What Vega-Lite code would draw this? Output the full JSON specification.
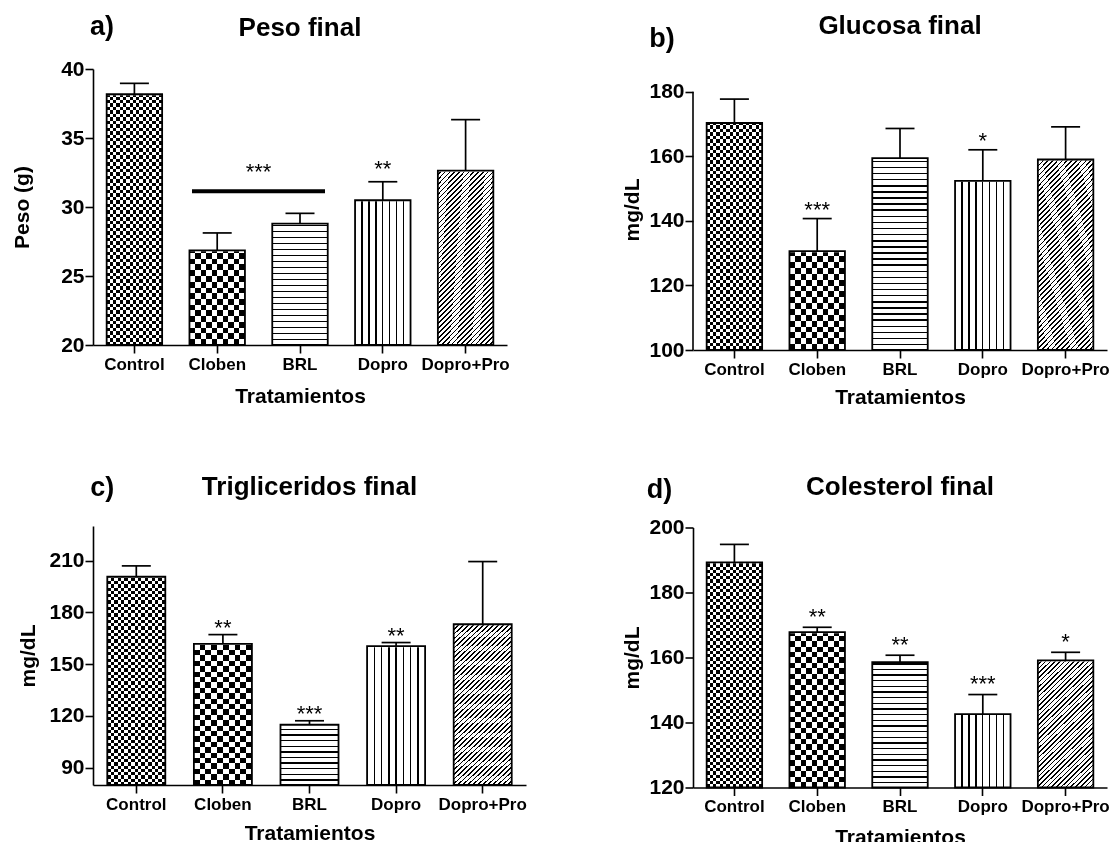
{
"$schema":"https://vega.github.io/schema/vega-lite/v6.json",
"background":"white",
"padding":{"left":11,"top":12,"right":0,"bottom":0},
"config":{
"aria":false,
"view":{"stroke":null},
"axis":{"domainColor":"black","tickColor":"black","domainWidth":1.6,"tickWidth":1.6,"labelColor":"black","titleColor":"black","labelFont":"Liberation Sans","titleFont":"Liberation Sans","labelFontWeight":"bold","titleFontWeight":"bold","grid":false},
"axisX":{"labelFontSize":17,"titleFontSize":21,"tickSize":8,"labelPadding":3,"labelAngle":0},
"axisY":{"labelFontSize":21,"titleFontSize":21,"tickSize":8,"labelPadding":1},
"text":{"font":"Liberation Sans","color":"black","baseline":"alphabetic","align":"center"},
"style":{
"cH":{"color":{"gradient":"linear","x1":0,"y1":0,"x2":0,"y2":1,"stops":[
{"offset":0,"color":"#000"},
{"offset":0.0125,"color":"#000"},{"offset":0.0125,"color":"#fff"},{"offset":0.025,"color":"#fff"},{"offset":0.025,"color":"#000"},
{"offset":0.0375,"color":"#000"},{"offset":0.0375,"color":"#fff"},{"offset":0.05,"color":"#fff"},{"offset":0.05,"color":"#000"},
{"offset":0.0625,"color":"#000"},{"offset":0.0625,"color":"#fff"},{"offset":0.075,"color":"#fff"},{"offset":0.075,"color":"#000"},
{"offset":0.0875,"color":"#000"},{"offset":0.0875,"color":"#fff"},{"offset":0.1,"color":"#fff"},{"offset":0.1,"color":"#000"},
{"offset":0.1125,"color":"#000"},{"offset":0.1125,"color":"#fff"},{"offset":0.125,"color":"#fff"},{"offset":0.125,"color":"#000"},
{"offset":0.1375,"color":"#000"},{"offset":0.1375,"color":"#fff"},{"offset":0.15,"color":"#fff"},{"offset":0.15,"color":"#000"},
{"offset":0.1625,"color":"#000"},{"offset":0.1625,"color":"#fff"},{"offset":0.175,"color":"#fff"},{"offset":0.175,"color":"#000"},
{"offset":0.1875,"color":"#000"},{"offset":0.1875,"color":"#fff"},{"offset":0.2,"color":"#fff"},{"offset":0.2,"color":"#000"},
{"offset":0.2125,"color":"#000"},{"offset":0.2125,"color":"#fff"},{"offset":0.225,"color":"#fff"},{"offset":0.225,"color":"#000"},
{"offset":0.2375,"color":"#000"},{"offset":0.2375,"color":"#fff"},{"offset":0.25,"color":"#fff"},{"offset":0.25,"color":"#000"},
{"offset":0.2625,"color":"#000"},{"offset":0.2625,"color":"#fff"},{"offset":0.275,"color":"#fff"},{"offset":0.275,"color":"#000"},
{"offset":0.2875,"color":"#000"},{"offset":0.2875,"color":"#fff"},{"offset":0.3,"color":"#fff"},{"offset":0.3,"color":"#000"},
{"offset":0.3125,"color":"#000"},{"offset":0.3125,"color":"#fff"},{"offset":0.325,"color":"#fff"},{"offset":0.325,"color":"#000"},
{"offset":0.3375,"color":"#000"},{"offset":0.3375,"color":"#fff"},{"offset":0.35,"color":"#fff"},{"offset":0.35,"color":"#000"},
{"offset":0.3625,"color":"#000"},{"offset":0.3625,"color":"#fff"},{"offset":0.375,"color":"#fff"},{"offset":0.375,"color":"#000"},
{"offset":0.3875,"color":"#000"},{"offset":0.3875,"color":"#fff"},{"offset":0.4,"color":"#fff"},{"offset":0.4,"color":"#000"},
{"offset":0.4125,"color":"#000"},{"offset":0.4125,"color":"#fff"},{"offset":0.425,"color":"#fff"},{"offset":0.425,"color":"#000"},
{"offset":0.4375,"color":"#000"},{"offset":0.4375,"color":"#fff"},{"offset":0.45,"color":"#fff"},{"offset":0.45,"color":"#000"},
{"offset":0.4625,"color":"#000"},{"offset":0.4625,"color":"#fff"},{"offset":0.475,"color":"#fff"},{"offset":0.475,"color":"#000"},
{"offset":0.4875,"color":"#000"},{"offset":0.4875,"color":"#fff"},{"offset":0.5,"color":"#fff"},{"offset":0.5,"color":"#000"},
{"offset":0.5125,"color":"#000"},{"offset":0.5125,"color":"#fff"},{"offset":0.525,"color":"#fff"},{"offset":0.525,"color":"#000"},
{"offset":0.5375,"color":"#000"},{"offset":0.5375,"color":"#fff"},{"offset":0.55,"color":"#fff"},{"offset":0.55,"color":"#000"},
{"offset":0.5625,"color":"#000"},{"offset":0.5625,"color":"#fff"},{"offset":0.575,"color":"#fff"},{"offset":0.575,"color":"#000"},
{"offset":0.5875,"color":"#000"},{"offset":0.5875,"color":"#fff"},{"offset":0.6,"color":"#fff"},{"offset":0.6,"color":"#000"},
{"offset":0.6125,"color":"#000"},{"offset":0.6125,"color":"#fff"},{"offset":0.625,"color":"#fff"},{"offset":0.625,"color":"#000"},
{"offset":0.6375,"color":"#000"},{"offset":0.6375,"color":"#fff"},{"offset":0.65,"color":"#fff"},{"offset":0.65,"color":"#000"},
{"offset":0.6625,"color":"#000"},{"offset":0.6625,"color":"#fff"},{"offset":0.675,"color":"#fff"},{"offset":0.675,"color":"#000"},
{"offset":0.6875,"color":"#000"},{"offset":0.6875,"color":"#fff"},{"offset":0.7,"color":"#fff"},{"offset":0.7,"color":"#000"},
{"offset":0.7125,"color":"#000"},{"offset":0.7125,"color":"#fff"},{"offset":0.725,"color":"#fff"},{"offset":0.725,"color":"#000"},
{"offset":0.7375,"color":"#000"},{"offset":0.7375,"color":"#fff"},{"offset":0.75,"color":"#fff"},{"offset":0.75,"color":"#000"},
{"offset":0.7625,"color":"#000"},{"offset":0.7625,"color":"#fff"},{"offset":0.775,"color":"#fff"},{"offset":0.775,"color":"#000"},
{"offset":0.7875,"color":"#000"},{"offset":0.7875,"color":"#fff"},{"offset":0.8,"color":"#fff"},{"offset":0.8,"color":"#000"},
{"offset":0.8125,"color":"#000"},{"offset":0.8125,"color":"#fff"},{"offset":0.825,"color":"#fff"},{"offset":0.825,"color":"#000"},
{"offset":0.8375,"color":"#000"},{"offset":0.8375,"color":"#fff"},{"offset":0.85,"color":"#fff"},{"offset":0.85,"color":"#000"},
{"offset":0.8625,"color":"#000"},{"offset":0.8625,"color":"#fff"},{"offset":0.875,"color":"#fff"},{"offset":0.875,"color":"#000"},
{"offset":0.8875,"color":"#000"},{"offset":0.8875,"color":"#fff"},{"offset":0.9,"color":"#fff"},{"offset":0.9,"color":"#000"},
{"offset":0.9125,"color":"#000"},{"offset":0.9125,"color":"#fff"},{"offset":0.925,"color":"#fff"},{"offset":0.925,"color":"#000"},
{"offset":0.9375,"color":"#000"},{"offset":0.9375,"color":"#fff"},{"offset":0.95,"color":"#fff"},{"offset":0.95,"color":"#000"},
{"offset":0.9625,"color":"#000"},{"offset":0.9625,"color":"#fff"},{"offset":0.975,"color":"#fff"},{"offset":0.975,"color":"#000"},
{"offset":0.9875,"color":"#000"},{"offset":0.9875,"color":"#fff"},{"offset":1,"color":"#fff"}]}},
"cV":{"color":{"gradient":"linear","x1":0,"y1":0,"x2":1,"y2":0,"stops":[
{"offset":0,"color":"#fff"},
{"offset":0.0588,"color":"#fff"},{"offset":0.0588,"color":"#000"},{"offset":0.1176,"color":"#000"},{"offset":0.1176,"color":"#fff"},
{"offset":0.1765,"color":"#fff"},{"offset":0.1765,"color":"#000"},{"offset":0.2353,"color":"#000"},{"offset":0.2353,"color":"#fff"},
{"offset":0.2941,"color":"#fff"},{"offset":0.2941,"color":"#000"},{"offset":0.3529,"color":"#000"},{"offset":0.3529,"color":"#fff"},
{"offset":0.4118,"color":"#fff"},{"offset":0.4118,"color":"#000"},{"offset":0.4706,"color":"#000"},{"offset":0.4706,"color":"#fff"},
{"offset":0.5294,"color":"#fff"},{"offset":0.5294,"color":"#000"},{"offset":0.5882,"color":"#000"},{"offset":0.5882,"color":"#fff"},
{"offset":0.6471,"color":"#fff"},{"offset":0.6471,"color":"#000"},{"offset":0.7059,"color":"#000"},{"offset":0.7059,"color":"#fff"},
{"offset":0.7647,"color":"#fff"},{"offset":0.7647,"color":"#000"},{"offset":0.8235,"color":"#000"},{"offset":0.8235,"color":"#fff"},
{"offset":0.8824,"color":"#fff"},{"offset":0.8824,"color":"#000"},{"offset":0.9412,"color":"#000"},{"offset":0.9412,"color":"#fff"},
{"offset":1,"color":"#fff"}]}},
"kH":{"color":{"gradient":"linear","x1":0,"y1":0,"x2":0,"y2":1,"stops":[
{"offset":0,"color":"#000"},
{"offset":0.02083,"color":"#000"},{"offset":0.02083,"color":"#fff"},{"offset":0.04167,"color":"#fff"},{"offset":0.04167,"color":"#000"},
{"offset":0.0625,"color":"#000"},{"offset":0.0625,"color":"#fff"},{"offset":0.08333,"color":"#fff"},{"offset":0.08333,"color":"#000"},
{"offset":0.10417,"color":"#000"},{"offset":0.10417,"color":"#fff"},{"offset":0.125,"color":"#fff"},{"offset":0.125,"color":"#000"},
{"offset":0.14583,"color":"#000"},{"offset":0.14583,"color":"#fff"},{"offset":0.16667,"color":"#fff"},{"offset":0.16667,"color":"#000"},
{"offset":0.1875,"color":"#000"},{"offset":0.1875,"color":"#fff"},{"offset":0.20833,"color":"#fff"},{"offset":0.20833,"color":"#000"},
{"offset":0.22917,"color":"#000"},{"offset":0.22917,"color":"#fff"},{"offset":0.25,"color":"#fff"},{"offset":0.25,"color":"#000"},
{"offset":0.27083,"color":"#000"},{"offset":0.27083,"color":"#fff"},{"offset":0.29167,"color":"#fff"},{"offset":0.29167,"color":"#000"},
{"offset":0.3125,"color":"#000"},{"offset":0.3125,"color":"#fff"},{"offset":0.33333,"color":"#fff"},{"offset":0.33333,"color":"#000"},
{"offset":0.35417,"color":"#000"},{"offset":0.35417,"color":"#fff"},{"offset":0.375,"color":"#fff"},{"offset":0.375,"color":"#000"},
{"offset":0.39583,"color":"#000"},{"offset":0.39583,"color":"#fff"},{"offset":0.41667,"color":"#fff"},{"offset":0.41667,"color":"#000"},
{"offset":0.4375,"color":"#000"},{"offset":0.4375,"color":"#fff"},{"offset":0.45833,"color":"#fff"},{"offset":0.45833,"color":"#000"},
{"offset":0.47917,"color":"#000"},{"offset":0.47917,"color":"#fff"},{"offset":0.5,"color":"#fff"},{"offset":0.5,"color":"#000"},
{"offset":0.52083,"color":"#000"},{"offset":0.52083,"color":"#fff"},{"offset":0.54167,"color":"#fff"},{"offset":0.54167,"color":"#000"},
{"offset":0.5625,"color":"#000"},{"offset":0.5625,"color":"#fff"},{"offset":0.58333,"color":"#fff"},{"offset":0.58333,"color":"#000"},
{"offset":0.60417,"color":"#000"},{"offset":0.60417,"color":"#fff"},{"offset":0.625,"color":"#fff"},{"offset":0.625,"color":"#000"},
{"offset":0.64583,"color":"#000"},{"offset":0.64583,"color":"#fff"},{"offset":0.66667,"color":"#fff"},{"offset":0.66667,"color":"#000"},
{"offset":0.6875,"color":"#000"},{"offset":0.6875,"color":"#fff"},{"offset":0.70833,"color":"#fff"},{"offset":0.70833,"color":"#000"},
{"offset":0.72917,"color":"#000"},{"offset":0.72917,"color":"#fff"},{"offset":0.75,"color":"#fff"},{"offset":0.75,"color":"#000"},
{"offset":0.77083,"color":"#000"},{"offset":0.77083,"color":"#fff"},{"offset":0.79167,"color":"#fff"},{"offset":0.79167,"color":"#000"},
{"offset":0.8125,"color":"#000"},{"offset":0.8125,"color":"#fff"},{"offset":0.83333,"color":"#fff"},{"offset":0.83333,"color":"#000"},
{"offset":0.85417,"color":"#000"},{"offset":0.85417,"color":"#fff"},{"offset":0.875,"color":"#fff"},{"offset":0.875,"color":"#000"},
{"offset":0.89583,"color":"#000"},{"offset":0.89583,"color":"#fff"},{"offset":0.91667,"color":"#fff"},{"offset":0.91667,"color":"#000"},
{"offset":0.9375,"color":"#000"},{"offset":0.9375,"color":"#fff"},{"offset":0.95833,"color":"#fff"},{"offset":0.95833,"color":"#000"},
{"offset":0.97917,"color":"#000"},{"offset":0.97917,"color":"#fff"},{"offset":1,"color":"#fff"}]}},
"kV":{"color":{"gradient":"linear","x1":0,"y1":0,"x2":1,"y2":0,"stops":[
{"offset":0,"color":"#fff"},
{"offset":0.1,"color":"#fff"},{"offset":0.1,"color":"#000"},{"offset":0.2,"color":"#000"},{"offset":0.2,"color":"#fff"},
{"offset":0.3,"color":"#fff"},{"offset":0.3,"color":"#000"},{"offset":0.4,"color":"#000"},{"offset":0.4,"color":"#fff"},
{"offset":0.5,"color":"#fff"},{"offset":0.5,"color":"#000"},{"offset":0.6,"color":"#000"},{"offset":0.6,"color":"#fff"},
{"offset":0.7,"color":"#fff"},{"offset":0.7,"color":"#000"},{"offset":0.8,"color":"#000"},{"offset":0.8,"color":"#fff"},
{"offset":0.9,"color":"#fff"},{"offset":0.9,"color":"#000"},{"offset":1,"color":"#000"}]}},
"bH":{"color":{"gradient":"linear","x1":0,"y1":0,"x2":0,"y2":1,"stops":[
{"offset":0,"color":"#000"},{"offset":0.00522,"color":"#000"},{"offset":0.00522,"color":"#fff"},{"offset":0.02174,"color":"#fff"},
{"offset":0.02174,"color":"#000"},{"offset":0.02696,"color":"#000"},{"offset":0.02696,"color":"#fff"},{"offset":0.04348,"color":"#fff"},
{"offset":0.04348,"color":"#000"},{"offset":0.0487,"color":"#000"},{"offset":0.0487,"color":"#fff"},{"offset":0.06522,"color":"#fff"},
{"offset":0.06522,"color":"#000"},{"offset":0.07043,"color":"#000"},{"offset":0.07043,"color":"#fff"},{"offset":0.08696,"color":"#fff"},
{"offset":0.08696,"color":"#000"},{"offset":0.09217,"color":"#000"},{"offset":0.09217,"color":"#fff"},{"offset":0.1087,"color":"#fff"},
{"offset":0.1087,"color":"#000"},{"offset":0.11391,"color":"#000"},{"offset":0.11391,"color":"#fff"},{"offset":0.13043,"color":"#fff"},
{"offset":0.13043,"color":"#000"},{"offset":0.13565,"color":"#000"},{"offset":0.13565,"color":"#fff"},{"offset":0.15217,"color":"#fff"},
{"offset":0.15217,"color":"#000"},{"offset":0.15739,"color":"#000"},{"offset":0.15739,"color":"#fff"},{"offset":0.17391,"color":"#fff"},
{"offset":0.17391,"color":"#000"},{"offset":0.17913,"color":"#000"},{"offset":0.17913,"color":"#fff"},{"offset":0.19565,"color":"#fff"},
{"offset":0.19565,"color":"#000"},{"offset":0.20087,"color":"#000"},{"offset":0.20087,"color":"#fff"},{"offset":0.21739,"color":"#fff"},
{"offset":0.21739,"color":"#000"},{"offset":0.22261,"color":"#000"},{"offset":0.22261,"color":"#fff"},{"offset":0.23913,"color":"#fff"},
{"offset":0.23913,"color":"#000"},{"offset":0.24435,"color":"#000"},{"offset":0.24435,"color":"#fff"},{"offset":0.26087,"color":"#fff"},
{"offset":0.26087,"color":"#000"},{"offset":0.26609,"color":"#000"},{"offset":0.26609,"color":"#fff"},{"offset":0.28261,"color":"#fff"},
{"offset":0.28261,"color":"#000"},{"offset":0.28783,"color":"#000"},{"offset":0.28783,"color":"#fff"},{"offset":0.30435,"color":"#fff"},
{"offset":0.30435,"color":"#000"},{"offset":0.30957,"color":"#000"},{"offset":0.30957,"color":"#fff"},{"offset":0.32609,"color":"#fff"},
{"offset":0.32609,"color":"#000"},{"offset":0.3313,"color":"#000"},{"offset":0.3313,"color":"#fff"},{"offset":0.34783,"color":"#fff"},
{"offset":0.34783,"color":"#000"},{"offset":0.35304,"color":"#000"},{"offset":0.35304,"color":"#fff"},{"offset":0.36957,"color":"#fff"},
{"offset":0.36957,"color":"#000"},{"offset":0.37478,"color":"#000"},{"offset":0.37478,"color":"#fff"},{"offset":0.3913,"color":"#fff"},
{"offset":0.3913,"color":"#000"},{"offset":0.39652,"color":"#000"},{"offset":0.39652,"color":"#fff"},{"offset":0.41304,"color":"#fff"},
{"offset":0.41304,"color":"#000"},{"offset":0.41826,"color":"#000"},{"offset":0.41826,"color":"#fff"},{"offset":0.43478,"color":"#fff"},
{"offset":0.43478,"color":"#000"},{"offset":0.44,"color":"#000"},{"offset":0.44,"color":"#fff"},{"offset":0.45652,"color":"#fff"},
{"offset":0.45652,"color":"#000"},{"offset":0.46174,"color":"#000"},{"offset":0.46174,"color":"#fff"},{"offset":0.47826,"color":"#fff"},
{"offset":0.47826,"color":"#000"},{"offset":0.48348,"color":"#000"},{"offset":0.48348,"color":"#fff"},{"offset":0.5,"color":"#fff"},
{"offset":0.5,"color":"#000"},{"offset":0.50522,"color":"#000"},{"offset":0.50522,"color":"#fff"},{"offset":0.52174,"color":"#fff"},
{"offset":0.52174,"color":"#000"},{"offset":0.52696,"color":"#000"},{"offset":0.52696,"color":"#fff"},{"offset":0.54348,"color":"#fff"},
{"offset":0.54348,"color":"#000"},{"offset":0.5487,"color":"#000"},{"offset":0.5487,"color":"#fff"},{"offset":0.56522,"color":"#fff"},
{"offset":0.56522,"color":"#000"},{"offset":0.57043,"color":"#000"},{"offset":0.57043,"color":"#fff"},{"offset":0.58696,"color":"#fff"},
{"offset":0.58696,"color":"#000"},{"offset":0.59217,"color":"#000"},{"offset":0.59217,"color":"#fff"},{"offset":0.6087,"color":"#fff"},
{"offset":0.6087,"color":"#000"},{"offset":0.61391,"color":"#000"},{"offset":0.61391,"color":"#fff"},{"offset":0.63043,"color":"#fff"},
{"offset":0.63043,"color":"#000"},{"offset":0.63565,"color":"#000"},{"offset":0.63565,"color":"#fff"},{"offset":0.65217,"color":"#fff"},
{"offset":0.65217,"color":"#000"},{"offset":0.65739,"color":"#000"},{"offset":0.65739,"color":"#fff"},{"offset":0.67391,"color":"#fff"},
{"offset":0.67391,"color":"#000"},{"offset":0.67913,"color":"#000"},{"offset":0.67913,"color":"#fff"},{"offset":0.69565,"color":"#fff"},
{"offset":0.69565,"color":"#000"},{"offset":0.70087,"color":"#000"},{"offset":0.70087,"color":"#fff"},{"offset":0.71739,"color":"#fff"},
{"offset":0.71739,"color":"#000"},{"offset":0.72261,"color":"#000"},{"offset":0.72261,"color":"#fff"},{"offset":0.73913,"color":"#fff"},
{"offset":0.73913,"color":"#000"},{"offset":0.74435,"color":"#000"},{"offset":0.74435,"color":"#fff"},{"offset":0.76087,"color":"#fff"},
{"offset":0.76087,"color":"#000"},{"offset":0.76609,"color":"#000"},{"offset":0.76609,"color":"#fff"},{"offset":0.78261,"color":"#fff"},
{"offset":0.78261,"color":"#000"},{"offset":0.78783,"color":"#000"},{"offset":0.78783,"color":"#fff"},{"offset":0.80435,"color":"#fff"},
{"offset":0.80435,"color":"#000"},{"offset":0.80957,"color":"#000"},{"offset":0.80957,"color":"#fff"},{"offset":0.82609,"color":"#fff"},
{"offset":0.82609,"color":"#000"},{"offset":0.8313,"color":"#000"},{"offset":0.8313,"color":"#fff"},{"offset":0.84783,"color":"#fff"},
{"offset":0.84783,"color":"#000"},{"offset":0.85304,"color":"#000"},{"offset":0.85304,"color":"#fff"},{"offset":0.86957,"color":"#fff"},
{"offset":0.86957,"color":"#000"},{"offset":0.87478,"color":"#000"},{"offset":0.87478,"color":"#fff"},{"offset":0.8913,"color":"#fff"},
{"offset":0.8913,"color":"#000"},{"offset":0.89652,"color":"#000"},{"offset":0.89652,"color":"#fff"},{"offset":0.91304,"color":"#fff"},
{"offset":0.91304,"color":"#000"},{"offset":0.91826,"color":"#000"},{"offset":0.91826,"color":"#fff"},{"offset":0.93478,"color":"#fff"},
{"offset":0.93478,"color":"#000"},{"offset":0.94,"color":"#000"},{"offset":0.94,"color":"#fff"},{"offset":0.95652,"color":"#fff"},
{"offset":0.95652,"color":"#000"},{"offset":0.96174,"color":"#000"},{"offset":0.96174,"color":"#fff"},{"offset":0.97826,"color":"#fff"},
{"offset":0.97826,"color":"#000"},{"offset":0.98348,"color":"#000"},{"offset":0.98348,"color":"#fff"},{"offset":1,"color":"#fff"}]}},
"dV":{"color":{"gradient":"linear","x1":0,"y1":0,"x2":1,"y2":0,"stops":[
{"offset":0,"color":"#fff"},
{"offset":0.1133,"color":"#fff"},{"offset":0.1133,"color":"#000"},{"offset":0.1367,"color":"#000"},{"offset":0.1367,"color":"#fff"},
{"offset":0.2383,"color":"#fff"},{"offset":0.2383,"color":"#000"},{"offset":0.2617,"color":"#000"},{"offset":0.2617,"color":"#fff"},
{"offset":0.3633,"color":"#fff"},{"offset":0.3633,"color":"#000"},{"offset":0.3867,"color":"#000"},{"offset":0.3867,"color":"#fff"},
{"offset":0.4883,"color":"#fff"},{"offset":0.4883,"color":"#000"},{"offset":0.5117,"color":"#000"},{"offset":0.5117,"color":"#fff"},
{"offset":0.6133,"color":"#fff"},{"offset":0.6133,"color":"#000"},{"offset":0.6367,"color":"#000"},{"offset":0.6367,"color":"#fff"},
{"offset":0.7383,"color":"#fff"},{"offset":0.7383,"color":"#000"},{"offset":0.7617,"color":"#000"},{"offset":0.7617,"color":"#fff"},
{"offset":0.8633,"color":"#fff"},{"offset":0.8633,"color":"#000"},{"offset":0.8867,"color":"#000"},{"offset":0.8867,"color":"#fff"},
{"offset":1,"color":"#fff"}]}},
"pD":{"color":{"gradient":"linear","x1":0,"y1":0,"x2":0.2427,"y2":1.1586,"stops":[
{"offset":0,"color":"#000"},{"offset":0.00498,"color":"#000"},{"offset":0.00498,"color":"#fff"},{"offset":0.01493,"color":"#fff"},
{"offset":0.01493,"color":"#000"},{"offset":0.0199,"color":"#000"},{"offset":0.0199,"color":"#fff"},{"offset":0.02985,"color":"#fff"},
{"offset":0.02985,"color":"#000"},{"offset":0.03483,"color":"#000"},{"offset":0.03483,"color":"#fff"},{"offset":0.04478,"color":"#fff"},
{"offset":0.04478,"color":"#000"},{"offset":0.04975,"color":"#000"},{"offset":0.04975,"color":"#fff"},{"offset":0.0597,"color":"#fff"},
{"offset":0.0597,"color":"#000"},{"offset":0.06468,"color":"#000"},{"offset":0.06468,"color":"#fff"},{"offset":0.07463,"color":"#fff"},
{"offset":0.07463,"color":"#000"},{"offset":0.0796,"color":"#000"},{"offset":0.0796,"color":"#fff"},{"offset":0.08955,"color":"#fff"},
{"offset":0.08955,"color":"#000"},{"offset":0.09453,"color":"#000"},{"offset":0.09453,"color":"#fff"},{"offset":0.10448,"color":"#fff"},
{"offset":0.10448,"color":"#000"},{"offset":0.10945,"color":"#000"},{"offset":0.10945,"color":"#fff"},{"offset":0.1194,"color":"#fff"},
{"offset":0.1194,"color":"#000"},{"offset":0.12438,"color":"#000"},{"offset":0.12438,"color":"#fff"},{"offset":0.13433,"color":"#fff"},
{"offset":0.13433,"color":"#000"},{"offset":0.1393,"color":"#000"},{"offset":0.1393,"color":"#fff"},{"offset":0.14925,"color":"#fff"},
{"offset":0.14925,"color":"#000"},{"offset":0.15423,"color":"#000"},{"offset":0.15423,"color":"#fff"},{"offset":0.16418,"color":"#fff"},
{"offset":0.16418,"color":"#000"},{"offset":0.16915,"color":"#000"},{"offset":0.16915,"color":"#fff"},{"offset":0.1791,"color":"#fff"},
{"offset":0.1791,"color":"#000"},{"offset":0.18408,"color":"#000"},{"offset":0.18408,"color":"#fff"},{"offset":0.19403,"color":"#fff"},
{"offset":0.19403,"color":"#000"},{"offset":0.199,"color":"#000"},{"offset":0.199,"color":"#fff"},{"offset":0.20896,"color":"#fff"},
{"offset":0.20896,"color":"#000"},{"offset":0.21393,"color":"#000"},{"offset":0.21393,"color":"#fff"},{"offset":0.22388,"color":"#fff"},
{"offset":0.22388,"color":"#000"},{"offset":0.22886,"color":"#000"},{"offset":0.22886,"color":"#fff"},{"offset":0.23881,"color":"#fff"},
{"offset":0.23881,"color":"#000"},{"offset":0.24378,"color":"#000"},{"offset":0.24378,"color":"#fff"},{"offset":0.25373,"color":"#fff"},
{"offset":0.25373,"color":"#000"},{"offset":0.25871,"color":"#000"},{"offset":0.25871,"color":"#fff"},{"offset":0.26866,"color":"#fff"},
{"offset":0.26866,"color":"#000"},{"offset":0.27363,"color":"#000"},{"offset":0.27363,"color":"#fff"},{"offset":0.28358,"color":"#fff"},
{"offset":0.28358,"color":"#000"},{"offset":0.28856,"color":"#000"},{"offset":0.28856,"color":"#fff"},{"offset":0.29851,"color":"#fff"},
{"offset":0.29851,"color":"#000"},{"offset":0.30348,"color":"#000"},{"offset":0.30348,"color":"#fff"},{"offset":0.31343,"color":"#fff"},
{"offset":0.31343,"color":"#000"},{"offset":0.31841,"color":"#000"},{"offset":0.31841,"color":"#fff"},{"offset":0.32836,"color":"#fff"},
{"offset":0.32836,"color":"#000"},{"offset":0.33333,"color":"#000"},{"offset":0.33333,"color":"#fff"},{"offset":0.34328,"color":"#fff"},
{"offset":0.34328,"color":"#000"},{"offset":0.34826,"color":"#000"},{"offset":0.34826,"color":"#fff"},{"offset":0.35821,"color":"#fff"},
{"offset":0.35821,"color":"#000"},{"offset":0.36318,"color":"#000"},{"offset":0.36318,"color":"#fff"},{"offset":0.37313,"color":"#fff"},
{"offset":0.37313,"color":"#000"},{"offset":0.37811,"color":"#000"},{"offset":0.37811,"color":"#fff"},{"offset":0.38806,"color":"#fff"},
{"offset":0.38806,"color":"#000"},{"offset":0.39303,"color":"#000"},{"offset":0.39303,"color":"#fff"},{"offset":0.40299,"color":"#fff"},
{"offset":0.40299,"color":"#000"},{"offset":0.40796,"color":"#000"},{"offset":0.40796,"color":"#fff"},{"offset":0.41791,"color":"#fff"},
{"offset":0.41791,"color":"#000"},{"offset":0.42289,"color":"#000"},{"offset":0.42289,"color":"#fff"},{"offset":0.43284,"color":"#fff"},
{"offset":0.43284,"color":"#000"},{"offset":0.43781,"color":"#000"},{"offset":0.43781,"color":"#fff"},{"offset":0.44776,"color":"#fff"},
{"offset":0.44776,"color":"#000"},{"offset":0.45274,"color":"#000"},{"offset":0.45274,"color":"#fff"},{"offset":0.46269,"color":"#fff"},
{"offset":0.46269,"color":"#000"},{"offset":0.46766,"color":"#000"},{"offset":0.46766,"color":"#fff"},{"offset":0.47761,"color":"#fff"},
{"offset":0.47761,"color":"#000"},{"offset":0.48259,"color":"#000"},{"offset":0.48259,"color":"#fff"},{"offset":0.49254,"color":"#fff"},
{"offset":0.49254,"color":"#000"},{"offset":0.49751,"color":"#000"},{"offset":0.49751,"color":"#fff"},{"offset":0.50746,"color":"#fff"},
{"offset":0.50746,"color":"#000"},{"offset":0.51244,"color":"#000"},{"offset":0.51244,"color":"#fff"},{"offset":0.52239,"color":"#fff"},
{"offset":0.52239,"color":"#000"},{"offset":0.52736,"color":"#000"},{"offset":0.52736,"color":"#fff"},{"offset":0.53731,"color":"#fff"},
{"offset":0.53731,"color":"#000"},{"offset":0.54229,"color":"#000"},{"offset":0.54229,"color":"#fff"},{"offset":0.55224,"color":"#fff"},
{"offset":0.55224,"color":"#000"},{"offset":0.55721,"color":"#000"},{"offset":0.55721,"color":"#fff"},{"offset":0.56716,"color":"#fff"},
{"offset":0.56716,"color":"#000"},{"offset":0.57214,"color":"#000"},{"offset":0.57214,"color":"#fff"},{"offset":0.58209,"color":"#fff"},
{"offset":0.58209,"color":"#000"},{"offset":0.58706,"color":"#000"},{"offset":0.58706,"color":"#fff"},{"offset":0.59701,"color":"#fff"},
{"offset":0.59701,"color":"#000"},{"offset":0.60199,"color":"#000"},{"offset":0.60199,"color":"#fff"},{"offset":0.61194,"color":"#fff"},
{"offset":0.61194,"color":"#000"},{"offset":0.61692,"color":"#000"},{"offset":0.61692,"color":"#fff"},{"offset":0.62687,"color":"#fff"},
{"offset":0.62687,"color":"#000"},{"offset":0.63184,"color":"#000"},{"offset":0.63184,"color":"#fff"},{"offset":0.64179,"color":"#fff"},
{"offset":0.64179,"color":"#000"},{"offset":0.64677,"color":"#000"},{"offset":0.64677,"color":"#fff"},{"offset":0.65672,"color":"#fff"},
{"offset":0.65672,"color":"#000"},{"offset":0.66169,"color":"#000"},{"offset":0.66169,"color":"#fff"},{"offset":0.67164,"color":"#fff"},
{"offset":0.67164,"color":"#000"},{"offset":0.67662,"color":"#000"},{"offset":0.67662,"color":"#fff"},{"offset":0.68657,"color":"#fff"},
{"offset":0.68657,"color":"#000"},{"offset":0.69154,"color":"#000"},{"offset":0.69154,"color":"#fff"},{"offset":0.70149,"color":"#fff"},
{"offset":0.70149,"color":"#000"},{"offset":0.70647,"color":"#000"},{"offset":0.70647,"color":"#fff"},{"offset":0.71642,"color":"#fff"},
{"offset":0.71642,"color":"#000"},{"offset":0.72139,"color":"#000"},{"offset":0.72139,"color":"#fff"},{"offset":0.73134,"color":"#fff"},
{"offset":0.73134,"color":"#000"},{"offset":0.73632,"color":"#000"},{"offset":0.73632,"color":"#fff"},{"offset":0.74627,"color":"#fff"},
{"offset":0.74627,"color":"#000"},{"offset":0.75124,"color":"#000"},{"offset":0.75124,"color":"#fff"},{"offset":0.76119,"color":"#fff"},
{"offset":0.76119,"color":"#000"},{"offset":0.76617,"color":"#000"},{"offset":0.76617,"color":"#fff"},{"offset":0.77612,"color":"#fff"},
{"offset":0.77612,"color":"#000"},{"offset":0.78109,"color":"#000"},{"offset":0.78109,"color":"#fff"},{"offset":0.79104,"color":"#fff"},
{"offset":0.79104,"color":"#000"},{"offset":0.79602,"color":"#000"},{"offset":0.79602,"color":"#fff"},{"offset":0.80597,"color":"#fff"},
{"offset":0.80597,"color":"#000"},{"offset":0.81095,"color":"#000"},{"offset":0.81095,"color":"#fff"},{"offset":0.8209,"color":"#fff"},
{"offset":0.8209,"color":"#000"},{"offset":0.82587,"color":"#000"},{"offset":0.82587,"color":"#fff"},{"offset":0.83582,"color":"#fff"},
{"offset":0.83582,"color":"#000"},{"offset":0.8408,"color":"#000"},{"offset":0.8408,"color":"#fff"},{"offset":0.85075,"color":"#fff"},
{"offset":0.85075,"color":"#000"},{"offset":0.85572,"color":"#000"},{"offset":0.85572,"color":"#fff"},{"offset":0.86567,"color":"#fff"},
{"offset":0.86567,"color":"#000"},{"offset":0.87065,"color":"#000"},{"offset":0.87065,"color":"#fff"},{"offset":0.8806,"color":"#fff"},
{"offset":0.8806,"color":"#000"},{"offset":0.88557,"color":"#000"},{"offset":0.88557,"color":"#fff"},{"offset":0.89552,"color":"#fff"},
{"offset":0.89552,"color":"#000"},{"offset":0.9005,"color":"#000"},{"offset":0.9005,"color":"#fff"},{"offset":0.91045,"color":"#fff"},
{"offset":0.91045,"color":"#000"},{"offset":0.91542,"color":"#000"},{"offset":0.91542,"color":"#fff"},{"offset":0.92537,"color":"#fff"},
{"offset":0.92537,"color":"#000"},{"offset":0.93035,"color":"#000"},{"offset":0.93035,"color":"#fff"},{"offset":0.9403,"color":"#fff"},
{"offset":0.9403,"color":"#000"},{"offset":0.94527,"color":"#000"},{"offset":0.94527,"color":"#fff"},{"offset":0.95522,"color":"#fff"},
{"offset":0.95522,"color":"#000"},{"offset":0.9602,"color":"#000"},{"offset":0.9602,"color":"#fff"},{"offset":0.97015,"color":"#fff"},
{"offset":0.97015,"color":"#000"},{"offset":0.97512,"color":"#000"},{"offset":0.97512,"color":"#fff"},{"offset":0.98507,"color":"#fff"},
{"offset":0.98507,"color":"#000"},{"offset":0.99005,"color":"#000"},{"offset":0.99005,"color":"#fff"},{"offset":1,"color":"#fff"}]}}
}
},
"spacing":94,
"hconcat":[
{"spacing":67,"vconcat":[
{"width":414,"height":276,
"data":{"values":[
{"t":"Control","v":38.17,"e":38.96,"s":""},
{"t":"Cloben","v":26.86,"e":28.12,"s":""},
{"t":"BRL","v":28.79,"e":29.54,"s":""},
{"t":"Dopro","v":30.49,"e":31.83,"s":"**"},
{"t":"Dopro+Pro","v":32.63,"e":36.33,"s":""}]},
"encoding":{"x":{"field":"t","type":"nominal","scale":{"domain":["Control","Cloben","BRL","Dopro","Dopro+Pro"],"paddingInner":0.33,"paddingOuter":0.165},"axis":{"title":"Tratamientos","titlePadding":13}}},
"layer":[
{"mark":{"type":"bar","color":"white"},"encoding":{"y":{"field":"v","type":"quantitative","stack":null,"scale":{"domain":[20,40],"nice":false,"zero":false},"axis":{"values":[20,25,30,35,40],"title":"Peso (g)","titlePadding":27.9}}}},
{"transform":[{"filter":"datum.t==='Control'"}],"mark":{"type":"bar","style":"cH"}},
{"transform":[{"filter":"datum.t==='Cloben'"}],"mark":{"type":"bar","style":"kH"}},
{"transform":[{"filter":"datum.t==='BRL'"}],"mark":{"type":"bar","style":"bH"}},
{"transform":[{"filter":"datum.t==='Dopro'"}],"mark":{"type":"bar","style":"dV"}},
{"transform":[{"filter":"datum.t==='Dopro+Pro'"}],"mark":{"type":"bar","style":"pD"}},
{"transform":[{"filter":"datum.t==='Control'"}],"mark":{"type":"bar","style":"cV","blend":"difference"}},
{"transform":[{"filter":"datum.t==='Cloben'"}],"mark":{"type":"bar","style":"kV","blend":"difference"}},
{"mark":{"type":"bar","color":"white","stroke":"white","strokeWidth":2},"encoding":{"y":{"field":"v","type":"quantitative","stack":null},"y2":{"value":0}}},
{"mark":{"type":"bar","fill":"transparent","stroke":"black","strokeWidth":1.8},"encoding":{"y":{"field":"v","type":"quantitative","stack":null}}},
{"mark":{"type":"rule","color":"black","strokeWidth":1.7},"encoding":{"y":{"field":"v","type":"quantitative"},"y2":{"field":"e"}}},
{"mark":{"type":"tick","color":"black","thickness":1.7,"size":29,"opacity":1},"encoding":{"y":{"field":"e","type":"quantitative"}}},
{"transform":[{"filter":"datum.s!==''"}],"mark":{"type":"text","fontSize":22,"dy":-5.5},"encoding":{"y":{"field":"e","type":"quantitative"},"text":{"field":"s","type":"nominal"}}},
{"data":{"values":[{"t":"Cloben","y":31.15,"s":"***"}]},"mark":{"type":"tick","color":"black","thickness":4,"size":133,"xOffset":41.3,"opacity":1},"encoding":{"y":{"field":"y","type":"quantitative"}}},
{"data":{"values":[{"t":"Cloben","y":31.15,"s":"***"}]},"mark":{"type":"text","fontSize":22,"dx":41.3,"dy":-12.5},"encoding":{"y":{"field":"y","type":"quantitative"},"text":{"field":"s","type":"nominal"}}},
{"data":{"values":[{"t":"Control","l":"a)"}]},"mark":{"type":"text","fontSize":27,"fontWeight":"bold","dx":-32.5},"encoding":{"y":{"datum":42.48,"type":"quantitative"},"text":{"field":"l","type":"nominal"}}},
{"data":{"values":[{"t":"BRL","l":"Peso final"}]},"mark":{"type":"text","fontSize":26,"fontWeight":"bold"},"encoding":{"y":{"datum":42.37,"type":"quantitative"},"text":{"field":"l","type":"nominal"}}}
]},
{"width":433,"height":259,
"data":{"values":[
{"t":"Control","v":200.6,"e":206.9,"s":""},
{"t":"Cloben","v":161.7,"e":167.1,"s":"**"},
{"t":"BRL","v":114.9,"e":117.2,"s":"***"},
{"t":"Dopro","v":160.4,"e":162.5,"s":"**"},
{"t":"Dopro+Pro","v":173.1,"e":209.4,"s":""}]},
"encoding":{"x":{"field":"t","type":"nominal","scale":{"domain":["Control","Cloben","BRL","Dopro","Dopro+Pro"],"paddingInner":0.33,"paddingOuter":0.165},"axis":{"title":"Tratamientos","titlePadding":10}}},
"layer":[
{"mark":{"type":"bar","color":"white"},"encoding":{"y":{"field":"v","type":"quantitative","stack":null,"scale":{"domain":[80,230],"nice":false,"zero":false},"axis":{"values":[90,120,150,180,210],"title":"mg/dL","titlePadding":10}}}},
{"transform":[{"filter":"datum.t==='Control'"}],"mark":{"type":"bar","style":"cH"}},
{"transform":[{"filter":"datum.t==='Cloben'"}],"mark":{"type":"bar","style":"kH"}},
{"transform":[{"filter":"datum.t==='BRL'"}],"mark":{"type":"bar","style":"bH"}},
{"transform":[{"filter":"datum.t==='Dopro'"}],"mark":{"type":"bar","style":"dV"}},
{"transform":[{"filter":"datum.t==='Dopro+Pro'"}],"mark":{"type":"bar","style":"pD"}},
{"transform":[{"filter":"datum.t==='Control'"}],"mark":{"type":"bar","style":"cV","blend":"difference"}},
{"transform":[{"filter":"datum.t==='Cloben'"}],"mark":{"type":"bar","style":"kV","blend":"difference"}},
{"mark":{"type":"bar","color":"white","stroke":"white","strokeWidth":2},"encoding":{"y":{"field":"v","type":"quantitative","stack":null},"y2":{"value":0}}},
{"mark":{"type":"bar","fill":"transparent","stroke":"black","strokeWidth":1.8},"encoding":{"y":{"field":"v","type":"quantitative","stack":null}}},
{"mark":{"type":"rule","color":"black","strokeWidth":1.7},"encoding":{"y":{"field":"v","type":"quantitative"},"y2":{"field":"e"}}},
{"mark":{"type":"tick","color":"black","thickness":1.7,"size":29,"opacity":1},"encoding":{"y":{"field":"e","type":"quantitative"}}},
{"transform":[{"filter":"datum.s!==''"}],"mark":{"type":"text","fontSize":22,"dy":0.5},"encoding":{"y":{"field":"e","type":"quantitative"},"text":{"field":"s","type":"nominal"}}},
{"data":{"values":[{"t":"Control","l":"c)"}]},"mark":{"type":"text","fontSize":27,"fontWeight":"bold","dx":-34},"encoding":{"y":{"datum":247.5,"type":"quantitative"},"text":{"field":"l","type":"nominal"}}},
{"data":{"values":[{"t":"BRL","l":"Trigliceridos final"}]},"mark":{"type":"text","fontSize":26,"fontWeight":"bold"},"encoding":{"y":{"datum":247.9,"type":"quantitative"},"text":{"field":"l","type":"nominal"}}}
]}
]},
{"spacing":65.5,"vconcat":[
{"width":414,"height":281,
"data":{"values":[
{"t":"Control","v":170.3,"e":177.7,"s":""},
{"t":"Cloben","v":130.6,"e":140.7,"s":"***"},
{"t":"BRL","v":159.4,"e":168.6,"s":""},
{"t":"Dopro","v":152.4,"e":162.0,"s":"*"},
{"t":"Dopro+Pro","v":159.0,"e":169.1,"s":""}]},
"encoding":{"x":{"field":"t","type":"nominal","scale":{"domain":["Control","Cloben","BRL","Dopro","Dopro+Pro"],"paddingInner":0.33,"paddingOuter":0.165},"axis":{"title":"Tratamientos","titlePadding":9.5}}},
"layer":[
{"mark":{"type":"bar","color":"white"},"encoding":{"y":{"field":"v","type":"quantitative","stack":null,"scale":{"domain":[100,187.02],"nice":false,"zero":false},"axis":{"values":[100,120,140,160,180],"title":"mg/dL","titlePadding":6.4,"domain":false}}}},
{"transform":[{"filter":"datum.t==='Control'"}],"mark":{"type":"bar","style":"cH"}},
{"transform":[{"filter":"datum.t==='Cloben'"}],"mark":{"type":"bar","style":"kH"}},
{"transform":[{"filter":"datum.t==='BRL'"}],"mark":{"type":"bar","style":"bH"}},
{"transform":[{"filter":"datum.t==='Dopro'"}],"mark":{"type":"bar","style":"dV"}},
{"transform":[{"filter":"datum.t==='Dopro+Pro'"}],"mark":{"type":"bar","style":"pD"}},
{"transform":[{"filter":"datum.t==='Control'"}],"mark":{"type":"bar","style":"cV","blend":"difference"}},
{"transform":[{"filter":"datum.t==='Cloben'"}],"mark":{"type":"bar","style":"kV","blend":"difference"}},
{"mark":{"type":"bar","color":"white","stroke":"white","strokeWidth":2},"encoding":{"y":{"field":"v","type":"quantitative","stack":null},"y2":{"value":0}}},
{"mark":{"type":"bar","fill":"transparent","stroke":"black","strokeWidth":1.8},"encoding":{"y":{"field":"v","type":"quantitative","stack":null}}},
{"mark":{"type":"rule","color":"black","strokeWidth":1.7},"encoding":{"y":{"field":"v","type":"quantitative"},"y2":{"field":"e"}}},
{"mark":{"type":"tick","color":"black","thickness":1.7,"size":29,"opacity":1},"encoding":{"y":{"field":"e","type":"quantitative"}}},
{"transform":[{"filter":"datum.s!==''"}],"mark":{"type":"text","fontSize":22,"dy":-2},"encoding":{"y":{"field":"e","type":"quantitative"},"text":{"field":"s","type":"nominal"}}},
{"data":{"values":[{"t":"Control"}]},"mark":{"type":"tick","orient":"vertical","color":"black","thickness":1.6,"size":258.3,"xOffset":-41.4,"opacity":1},"encoding":{"y":{"datum":140,"type":"quantitative"}}},
{"data":{"values":[{"t":"Control","l":"b)"}]},"mark":{"type":"text","fontSize":27,"fontWeight":"bold","dx":-72.3},"encoding":{"y":{"datum":193.83,"type":"quantitative"},"text":{"field":"l","type":"nominal"}}},
{"data":{"values":[{"t":"BRL","l":"Glucosa final"}]},"mark":{"type":"text","fontSize":26,"fontWeight":"bold"},"encoding":{"y":{"datum":197.85,"type":"quantitative"},"text":{"field":"l","type":"nominal"}}}
]},
{"width":414,"height":260,
"data":{"values":[
{"t":"Control","v":189.3,"e":194.8,"s":""},
{"t":"Cloben","v":167.8,"e":169.3,"s":"**"},
{"t":"BRL","v":158.6,"e":160.7,"s":"**"},
{"t":"Dopro","v":142.6,"e":148.6,"s":"***"},
{"t":"Dopro+Pro","v":159.1,"e":161.6,"s":"*"}]},
"encoding":{"x":{"field":"t","type":"nominal","scale":{"domain":["Control","Cloben","BRL","Dopro","Dopro+Pro"],"paddingInner":0.33,"paddingOuter":0.165},"axis":{"title":"Tratamientos","titlePadding":11.5}}},
"layer":[
{"mark":{"type":"bar","color":"white"},"encoding":{"y":{"field":"v","type":"quantitative","stack":null,"scale":{"domain":[120,200],"nice":false,"zero":false},"axis":{"values":[120,140,160,180,200],"title":"mg/dL","titlePadding":6.4}}}},
{"transform":[{"filter":"datum.t==='Control'"}],"mark":{"type":"bar","style":"cH"}},
{"transform":[{"filter":"datum.t==='Cloben'"}],"mark":{"type":"bar","style":"kH"}},
{"transform":[{"filter":"datum.t==='BRL'"}],"mark":{"type":"bar","style":"bH"}},
{"transform":[{"filter":"datum.t==='Dopro'"}],"mark":{"type":"bar","style":"dV"}},
{"transform":[{"filter":"datum.t==='Dopro+Pro'"}],"mark":{"type":"bar","style":"pD"}},
{"transform":[{"filter":"datum.t==='Control'"}],"mark":{"type":"bar","style":"cV","blend":"difference"}},
{"transform":[{"filter":"datum.t==='Cloben'"}],"mark":{"type":"bar","style":"kV","blend":"difference"}},
{"mark":{"type":"bar","color":"white","stroke":"white","strokeWidth":2},"encoding":{"y":{"field":"v","type":"quantitative","stack":null},"y2":{"value":0}}},
{"mark":{"type":"bar","fill":"transparent","stroke":"black","strokeWidth":1.8},"encoding":{"y":{"field":"v","type":"quantitative","stack":null}}},
{"mark":{"type":"rule","color":"black","strokeWidth":1.7},"encoding":{"y":{"field":"v","type":"quantitative"},"y2":{"field":"e"}}},
{"mark":{"type":"tick","color":"black","thickness":1.7,"size":29,"opacity":1},"encoding":{"y":{"field":"e","type":"quantitative"}}},
{"transform":[{"filter":"datum.s!==''"}],"mark":{"type":"text","fontSize":22,"dy":-3.5},"encoding":{"y":{"field":"e","type":"quantitative"},"text":{"field":"s","type":"nominal"}}},
{"data":{"values":[{"t":"Control","l":"d)"}]},"mark":{"type":"text","fontSize":27,"fontWeight":"bold","dx":-75},"encoding":{"y":{"datum":209.23,"type":"quantitative"},"text":{"field":"l","type":"nominal"}}},
{"data":{"values":[{"t":"BRL","l":"Colesterol final"}]},"mark":{"type":"text","fontSize":26,"fontWeight":"bold"},"encoding":{"y":{"datum":209.85,"type":"quantitative"},"text":{"field":"l","type":"nominal"}}}
]}
]}
]
}
